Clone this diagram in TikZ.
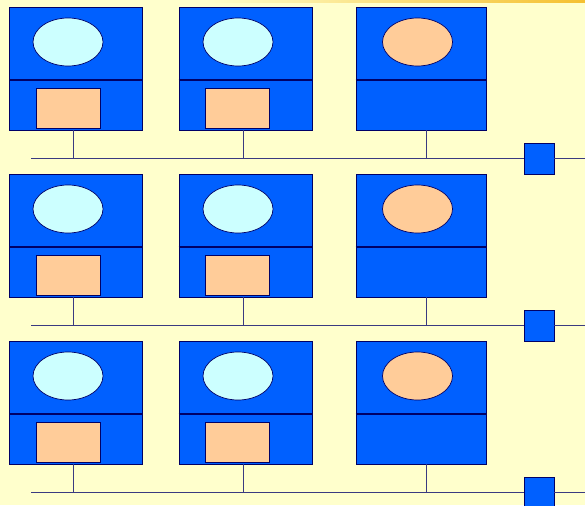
\documentclass[tikz,border=0pt]{standalone}
\usepackage{tikz}
\usetikzlibrary{shapes.geometric}
\definecolor{bgyellow}{HTML}{FFFFCC}
\definecolor{hostblue}{HTML}{0060FF}
\definecolor{navy}{HTML}{000066}
\definecolor{lightcyan}{HTML}{CCFFFF}
\definecolor{peach}{HTML}{FFCC99}
\definecolor{wire}{HTML}{3A3A80}
\definecolor{streak}{HTML}{F5C030}
\tikzset{host/.style={draw=navy, fill=hostblue, line width=0.8pt, minimum width=133pt, minimum height=123pt, inner sep=0pt},
  proc/.style={ellipse, draw=navy, line width=0.7pt, minimum width=70pt, minimum height=48pt, inner sep=0pt},
  mem/.style={draw=navy, fill=peach, line width=0.7pt, minimum width=64pt, minimum height=40pt, inner sep=0pt},
  switchbox/.style={draw=navy, fill=hostblue, line width=0.8pt, minimum width=30pt, minimum height=31pt, inner sep=0pt},
  bus/.style={draw=wire, line width=0.9pt}}

\begin{document}
\begin{tikzpicture}[x=1pt, y=-1pt]
\fill[bgyellow] (0,0) rectangle (585,505);
\useasboundingbox (0,0) rectangle (585,505);
\shade[left color=bgyellow, right color=streak] (205,0) rectangle (585,3);
\foreach \r/\dy in {1/0, 2/167, 3/334} {
  % three hosts on one bus
  \node[host] (hostA\r) at (76,68.5+\dy) {};
  \node[host] (hostB\r) at (245.5,68.5+\dy) {};
  \node[host, minimum width=130pt] (hostC\r) at (421,68.5+\dy) {};
  \foreach \h in {A,B,C} \draw[navy, line width=2pt] ([yshift=-73pt]hostA\r.north west -| host\h\r.west) -- ([yshift=-73pt]hostA\r.north west -| host\h\r.east);
  \node[proc, fill=lightcyan] (cpuA\r) at (68,42+\dy) {};
  \node[proc, fill=lightcyan] (cpuB\r) at (238,42+\dy) {};
  \node[proc, fill=peach] (cpuC\r) at (417.5,42+\dy) {};
  \node[mem] (memA\r) at (68,108+\dy) {};
  \node[mem] (memB\r) at (237.5,108+\dy) {};
  \node[switchbox] (sw\r) at (539,158.5+\dy) {};
  \coordinate (busL\r) at (31,158+\dy);
  \coordinate (busR\r) at (585,158+\dy);
  \draw[bus] (busL\r) -- (sw\r.west |- busL\r); \draw[bus] (sw\r.east |- busR\r) -- (busR\r);
  \draw[bus] ([xshift=-3pt]hostA\r.south) -- ([xshift=-3pt]hostA\r.south |- busL\r);
  \draw[bus] ([xshift=-2.5pt]hostB\r.south) -- ([xshift=-2.5pt]hostB\r.south |- busL\r);
  \draw[bus] ([xshift=5pt]hostC\r.south) -- ([xshift=5pt]hostC\r.south |- busL\r);
}
\end{tikzpicture}
\end{document}
